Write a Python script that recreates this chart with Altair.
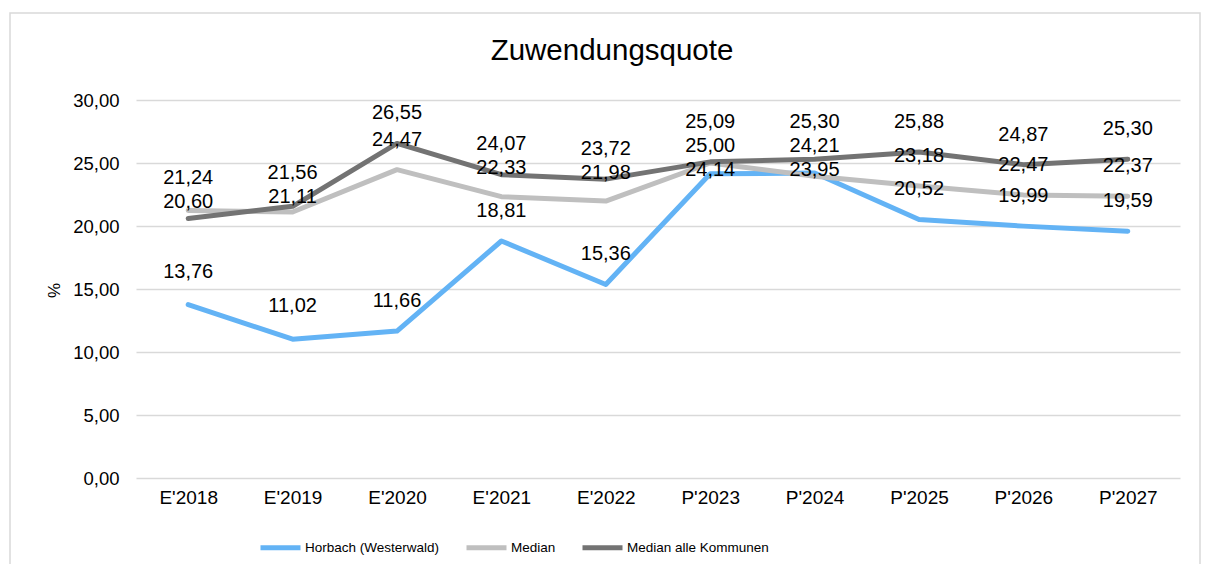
import altair as alt
import pandas as pd

categories = ["E'2018", "E'2019", "E'2020", "E'2021", "E'2022",
              "P'2023", "P'2024", "P'2025", "P'2026", "P'2027"]
series_names = ["Horbach (Westerwald)", "Median", "Median alle Kommunen"]
horbach = [13.76, 11.02, 11.66, 18.81, 15.36, 24.14, 24.21, 20.52, 19.99, 19.59]
median = [21.24, 21.11, 24.47, 22.33, 21.98, 25.00, 23.95, 23.18, 22.47, 22.37]
median_alle = [20.60, 21.56, 26.55, 24.07, 23.72, 25.09, 25.30, 25.88, 24.87, 25.30]
colors = ["#63b3f5", "#bfbfbf", "#737373"]
y_ticks = [0, 5, 10, 15, 20, 25, 30]
chart_title = "Zuwendungsquote"

PLOT_W, PLOT_H = 1044, 378
Y_MAX = 30
PX_PER_UNIT = PLOT_H / Y_MAX
LABEL_OFFSET_PX = 30
LABEL_GAP_PX = 24

rows = []
for name, vals in zip(series_names, [horbach, median, median_alle]):
    for i, (c, v) in enumerate(zip(categories, vals)):
        rows.append({"Jahr": c, "Serie": name, "Wert": v, "idx": i})
df = pd.DataFrame(rows)

# simple label collision avoidance (like the spreadsheet's label placement)
off_u = LABEL_OFFSET_PX / PX_PER_UNIT
gap_u = LABEL_GAP_PX / PX_PER_UNIT
df["label_pos"] = df["Wert"] + off_u
for c in categories:
    sub = df[df["Jahr"] == c].sort_values("Wert", ascending=False)
    desired = list(sub["Wert"] + off_u)
    placed = []
    for d in desired:
        if placed and d > placed[-1] - gap_u:
            d = placed[-1] - gap_u
        placed.append(d)
    shift = (sum(desired) - sum(placed)) / len(placed) / 2
    placed = [p + shift for p in placed]
    df.loc[sub.index, "label_pos"] = placed
df["lab"] = df["Wert"].map(lambda v: f"{v:.2f}".replace(".", ","))

FONT = "Liberation Sans"

x_enc = alt.X("Jahr:N", sort=categories,
              scale=alt.Scale(type="point", padding=0.5),
              axis=alt.Axis(title=None, labelAngle=0, labelFontSize=19,
                            labelColor="#000000", labelPadding=10,
                            domain=False, ticks=False, grid=False,
                            labelFont=FONT))
y_scale = alt.Scale(domain=[0, Y_MAX], nice=False, zero=True)
y_enc = alt.Y("Wert:Q", scale=y_scale,
              axis=alt.Axis(title="%", values=y_ticks,
                            labelExpr="replace(format(datum.value, '.2f'), '.', ',')",
                            labelFontSize=18.5, labelColor="#000000",
                            labelPadding=17, domain=False, ticks=False,
                            gridColor="#d9d9d9", gridWidth=1.5,
                            titleFontSize=17, titleFontWeight="normal",
                            titleColor="#000000", titleFont=FONT,
                            titleX=-73, titleY=190, titleAngle=-90,
                            labelFont=FONT))
color_enc = alt.Color("Serie:N",
                      scale=alt.Scale(domain=series_names, range=colors),
                      legend=alt.Legend(title=None, orient="none",
                                        direction="horizontal",
                                        legendX=122, legendY=425,
                                        symbolType="stroke",
                                        symbolSize=1600,
                                        symbolStrokeWidth=5,
                                        labelFontSize=13.5,
                                        labelFont=FONT,
                                        labelColor="#000000",
                                        labelLimit=0,
                                        labelOffset=2,
                                        columnPadding=16))

lines = alt.Chart(df).mark_line(strokeWidth=5, strokeCap="round",
                                strokeJoin="round").encode(
    x=x_enc, y=y_enc, color=color_enc, order="idx:Q")

labels = alt.Chart(df).mark_text(
    fontSize=20, font=FONT, color="#000000", baseline="middle").encode(
    x=alt.X("Jahr:N", sort=categories),
    y=alt.Y("label_pos:Q", scale=y_scale), text="lab:N")

frame = alt.Chart(pd.DataFrame({"a": [0]})).mark_rect(
    fillOpacity=0, stroke="#d9d9d9", strokeWidth=1.5).encode(
    x=alt.value(-126), x2=alt.value(1064),
    y=alt.value(-87), y2=alt.value(490))

title = alt.Chart(pd.DataFrame({"t": [chart_title]})).mark_text(
    fontSize=29.5, font=FONT, color="#000000", baseline="middle",
    align="center").encode(
    text="t:N", x=alt.value(476), y=alt.value(-49))

chart = alt.layer(frame, lines, labels, title).properties(
    width=PLOT_W, height=PLOT_H,
    padding={"left": 128, "top": 92, "right": 24, "bottom": 86},
    autosize=alt.AutoSizeParams(type="none"),
    background="#ffffff",
).configure_view(strokeWidth=0)

chart.save("out.html", embed_options={"renderer": "svg", "actions": False})
